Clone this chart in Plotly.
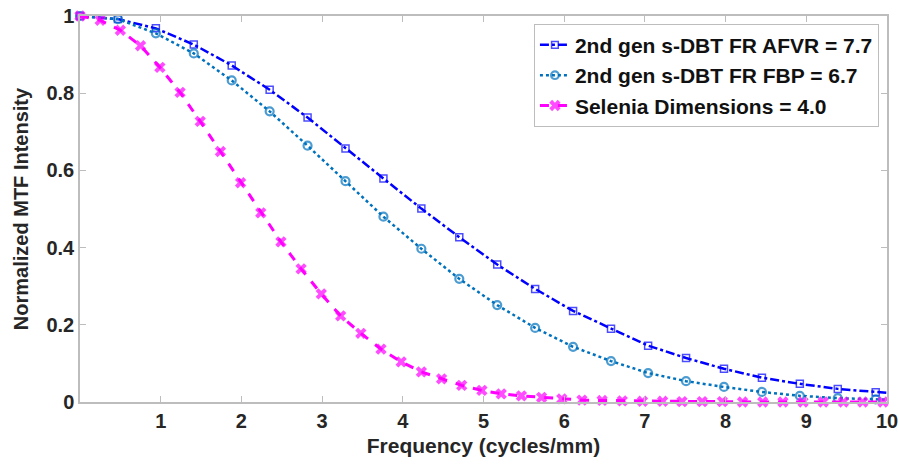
import plotly.graph_objects as go

# Frequency samples (cycles/mm)
freq_dbt = [0.00, 0.47, 0.94, 1.41, 1.88, 2.35, 2.82, 3.29, 3.76, 4.23, 4.70, 5.17,
            5.64, 6.11, 6.58, 7.04, 7.51, 7.98, 8.45, 8.92, 9.39, 9.86, 10.33]
mtf_afvr = [1.000, 0.992, 0.968, 0.926, 0.872, 0.809, 0.737, 0.657, 0.579, 0.501, 0.427, 0.356,
            0.293, 0.236, 0.190, 0.146, 0.114, 0.086, 0.063, 0.047, 0.034, 0.025, 0.018]
mtf_fbp = [1.000, 0.992, 0.955, 0.903, 0.833, 0.753, 0.664, 0.572, 0.480, 0.397, 0.319, 0.251,
           0.192, 0.143, 0.106, 0.075, 0.054, 0.039, 0.026, 0.016, 0.010, 0.007, 0.004]

freq_sel = [0.00, 0.25, 0.50, 0.75, 0.99, 1.24, 1.49, 1.74, 1.99, 2.24, 2.49, 2.74, 2.99, 3.23,
            3.48, 3.73, 3.98, 4.23, 4.48, 4.73, 4.98, 5.22, 5.47, 5.72, 5.97, 6.22, 6.47, 6.72,
            6.97, 7.22, 7.46, 7.71, 7.96, 8.21, 8.46, 8.71, 8.96, 9.21, 9.46, 9.70, 9.95]
mtf_sel = [1.000, 0.989, 0.963, 0.923, 0.867, 0.802, 0.727, 0.649, 0.568, 0.490, 0.415, 0.345,
           0.280, 0.223, 0.178, 0.137, 0.104, 0.078, 0.060, 0.043, 0.030, 0.021, 0.016, 0.012,
           0.008, 0.005, 0.004, 0.003, 0.002, 0.002, 0.001, 0.001, 0.001, 0.000, 0.000, 0.000,
           0.000, 0.000, 0.000, 0.000, 0.000]

names = ["2nd gen s-DBT FR AFVR = 7.7", "2nd gen s-DBT FR FBP = 6.7", "Selenia Dimensions = 4.0"]
x_ticks = [1, 2, 3, 4, 5, 6, 7, 8, 9, 10]
y_ticks = [0, 0.2, 0.4, 0.6, 0.8, 1]
y_tick_labels = ["0", "0.2", "0.4", "0.6", "0.8", "1"]

def sizes(xs, s):
    return [s if x <= 10.0 else 0 for x in xs]

fig = go.Figure()
fig.add_trace(go.Scatter(
    x=freq_dbt, y=mtf_afvr, name=names[0], mode="lines+markers",
    line=dict(color="#0000FF", width=2.5, dash="dashdot"),
    marker=dict(symbol="square-open", size=sizes(freq_dbt, 7), color="#0000FF",
                line=dict(width=1.5, color="#0000FF")),
    cliponaxis=False))
fig.add_trace(go.Scatter(
    x=freq_dbt, y=mtf_fbp, name=names[1], mode="lines+markers",
    line=dict(color="#0072BD", width=2.5, dash="dot"),
    marker=dict(symbol="circle-open", size=sizes(freq_dbt, 8), color="#0072BD",
                line=dict(width=2.2, color="#0072BD")),
    cliponaxis=False))
fig.add_trace(go.Scatter(
    x=freq_sel, y=mtf_sel, name=names[2], mode="lines+markers",
    line=dict(color="#FF00FF", width=3, dash="dash"),
    marker=dict(symbol="x", size=sizes(freq_sel, 10), color="#FF00FF",
                line=dict(width=0)),
    cliponaxis=False))

font_family = "Liberation Sans, Arial, sans-serif"
axis_common = dict(
    showline=True, linecolor="#BDBDBD", linewidth=1.5, mirror="ticks",
    ticks="inside", ticklen=6, tickcolor="#BDBDBD", tickwidth=1,
    showgrid=False, zeroline=False, automargin=False,
    tickfont=dict(family=font_family, size=20, color="#262626"),
)
fig.update_xaxes(range=[0, 10], tickvals=x_ticks, **axis_common,
                 title=dict(text="<b>Frequency (cycles/mm)</b>", standoff=8,
                            font=dict(family=font_family, size=21, color="#262626")))
fig.update_yaxes(range=[0, 1], tickvals=y_ticks, ticktext=y_tick_labels, **axis_common,
                 title=dict(text="<b>Normalized MTF Intensity</b>", standoff=12,
                            font=dict(family=font_family, size=20, color="#262626")))
fig.update_layout(
    width=899, height=466,
    margin=dict(l=80, r=12, t=16, b=64, autoexpand=False),
    plot_bgcolor="white", paper_bgcolor="white",
    font=dict(family=font_family, size=20, color="#262626", weight="bold"),
    legend=dict(x=0.99, y=0.98, xanchor="right", yanchor="top",
                bgcolor="white", bordercolor="#BDBDBD", borderwidth=1,
                font=dict(family=font_family, size=21, color="#111111", weight="bold"),
                itemwidth=30, tracegroupgap=0),
    showlegend=True,
)
fig.write_html("out.html")
